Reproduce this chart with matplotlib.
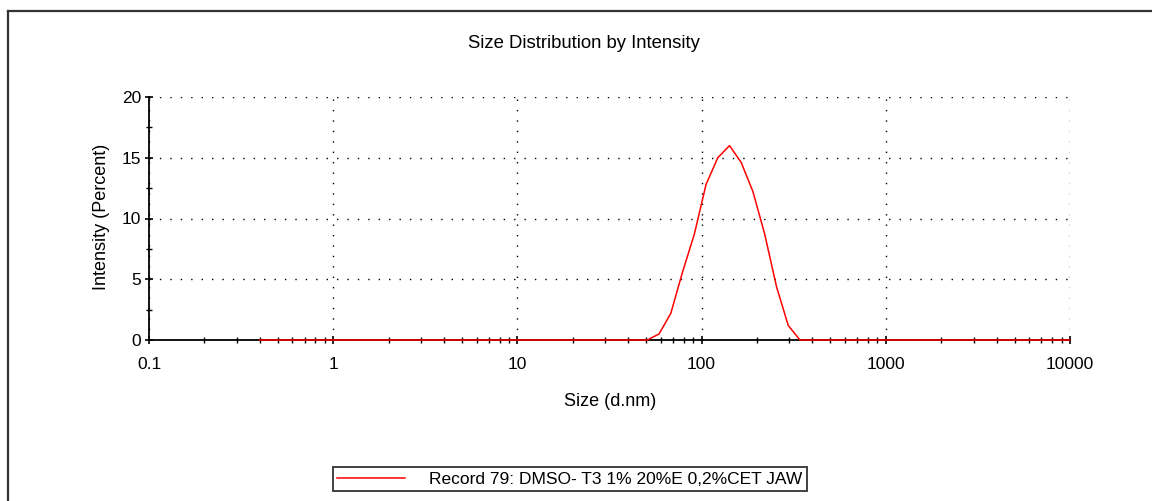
import numpy as np
import matplotlib
matplotlib.use("Agg")
import matplotlib.pyplot as plt
from matplotlib.lines import Line2D
from matplotlib.ticker import LogLocator, NullFormatter, FixedLocator, FixedFormatter

plt.rcParams['font.family'] = ['Liberation Sans', 'DejaVu Sans']

# size classes (d.nm) and intensity (%)
size_nm = [0.4, 0.4632, 0.5365, 0.6213, 0.7195, 0.8332, 0.9649, 1.117, 1.294, 1.499,
           1.736, 2.01, 2.328, 2.696, 3.122, 3.615, 4.187, 4.849, 5.615, 6.503,
           7.531, 8.721, 10.1, 11.7, 13.54, 15.69, 18.17, 21.04, 24.36, 28.21,
           32.67, 37.84, 43.82, 50.75, 58.77, 68.06, 78.82, 91.28, 105.7, 122.4,
           141.8, 164.2, 190.1, 220.2, 255.0, 295.3, 342.0, 396.1, 458.7, 531.2,
           615.1, 712.4, 825.0, 955.4, 1106, 1281, 1484, 1718, 1990, 2305,
           2669, 3091, 3580, 4145, 4801, 5560, 6439, 7456, 8635, 10000]
intensity = [0] * 33 + [0.0, 0.5, 2.2, 5.6, 8.7, 12.8, 15.0, 16.0, 14.6, 12.2,
                        8.7, 4.4, 1.2, 0.0] + [0] * 23

x_ticks = [0.1, 1, 10, 100, 1000, 10000]
x_labels = ["0.1", "1", "10", "100", "1000", "10000"]
y_ticks = [0, 5, 10, 15, 20]
y_labels = ["0", "5", "10", "15", "20"]

title = "Size Distribution by Intensity"
legend_label = "Record 79: DMSO- T3 1% 20%E 0,2%CET JAW"

fs = 12.5
W, H = 1152, 501
fig = plt.figure(figsize=(W / 100, H / 100), dpi=100)
ax = fig.add_axes([149 / W, 1 - 340 / H, (1070 - 149) / W, (340 - 97) / H])

line, = ax.plot(size_nm, intensity, color="#ff0000", lw=1.1, zorder=5, clip_on=False)

ax.set_xscale("log")
ax.set_xlim(0.1, 10000)
ax.set_ylim(0, 20)

ax.xaxis.set_major_locator(FixedLocator(x_ticks))
ax.xaxis.set_major_formatter(FixedFormatter(x_labels))
ax.xaxis.set_minor_locator(LogLocator(base=10, subs=np.arange(2, 10)))
ax.xaxis.set_minor_formatter(NullFormatter())
ax.yaxis.set_major_locator(FixedLocator(y_ticks))
ax.yaxis.set_major_formatter(FixedFormatter(y_labels))
ax.yaxis.set_minor_locator(FixedLocator([2.5, 7.5, 12.5, 17.5]))

ax.tick_params(which="major", direction="inout", length=6, width=1.2, colors="black",
               labelsize=fs)
ax.tick_params(which="minor", direction="inout", length=4.5, width=1.0, colors="black")
ax.tick_params(axis="x", which="major", pad=9)
ax.tick_params(axis="y", which="major", pad=2.5)

for side in ["top", "right"]:
    ax.spines[side].set_visible(False)
for side in ["left", "bottom"]:
    ax.spines[side].set_linewidth(1.3)
    ax.spines[side].set_color("black")

ax.grid(True, which="major", color="black", lw=1.0, linestyle=(0, (1, 6.5)))

fig.text(584 / W, 1 - 43 / H, title, ha="center", va="center", fontsize=13.3)
fig.text(101 / W, 1 - 217 / H, "Intensity (Percent)", ha="center", va="center",
         rotation=90, fontsize=13)
fig.text(610 / W, 1 - 401 / H, "Size (d.nm)", ha="center", va="center", fontsize=13)

leg = fig.legend([line], [legend_label], loc="lower left",
                 bbox_to_anchor=(333 / W, 1 - 491 / H), bbox_transform=fig.transFigure,
                 fontsize=fs, frameon=True, fancybox=False, shadow=False,
                 handlelength=3.9, handletextpad=1.4, borderpad=0.25, borderaxespad=0)
leg.get_frame().set_edgecolor("black")
leg.get_frame().set_linewidth(1.3)

# outer frame (left and top edges only, as in the export)
fig.add_artist(Line2D([7.5 / W, 7.5 / W], [0, 1 - 11 / H], transform=fig.transFigure,
                      color="#333333", lw=1.6))
fig.add_artist(Line2D([7.5 / W, 1], [1 - 11 / H, 1 - 11 / H], transform=fig.transFigure,
                      color="#333333", lw=1.6))

fig.savefig("out.png", dpi=100)
